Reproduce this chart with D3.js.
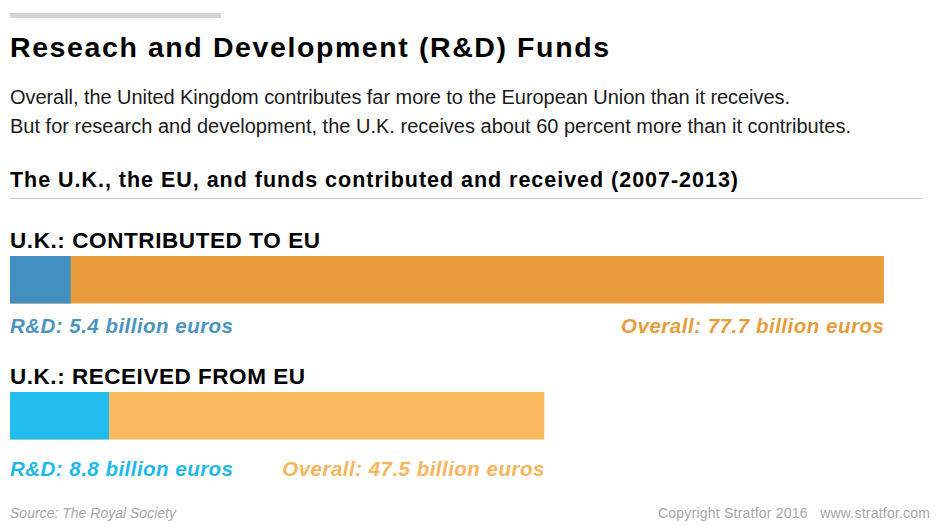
<!DOCTYPE html>
<html>
<head>
<meta charset="utf-8">
<script src="https://cdn.jsdelivr.net/npm/d3@7/dist/d3.min.js"></script>
<style>
  html, body { margin: 0; padding: 0; background: #fff; }
  svg { display: block; font-family: "Liberation Sans", Arial, Helvetica, sans-serif; }
</style>
</head>
<body>
<svg id="chart" width="940" height="526"></svg>
<script>
const title = "Reseach and Development (R&D) Funds";
const subtitleLines = [
  "Overall, the United Kingdom contributes far more to the European Union than it receives.",
  "But for research and development, the U.K. receives about 60 percent more than it contributes."
];
const sectionTitle = "The U.K., the EU, and funds contributed and received (2007-2013)";
const groups = ["U.K.: CONTRIBUTED TO EU", "U.K.: RECEIVED FROM EU"];
const rdValues = [5.4, 8.8];
const overallValues = [77.7, 47.5];
const rdColors = ["#4190bf", "#22bdee"];
const overallColors = ["#ea9c3c", "#fbb960"];
const rdLabelColors = ["#4a94c1", "#1db9ec"];
const overallLabelColors = ["#ea9c3c", "#fbb459"];
const source = "Source: The Royal Society";
const copyright = "Copyright Stratfor 2016   www.stratfor.com";

const svg = d3.select("#chart");

function fit(sel, w) {
  sel.attr("textLength", w).attr("lengthAdjust", "spacing");
  return sel;
}

svg.append("rect").attr("x", 10).attr("y", 13).attr("width", 211).attr("height", 5).attr("fill", "#d5d5d5");

fit(svg.append("text").attr("x", 10).attr("y", 56.5)
  .attr("font-size", 28.5).attr("font-weight", "bold").attr("fill", "#000").text(title), 599);

const subW = [780, 841];
subtitleLines.forEach((t, i) => {
  fit(svg.append("text").attr("x", 10).attr("y", 104 + i * 29)
    .attr("font-size", 20).attr("fill", "#1a1a1a").text(t), subW[i]);
});

fit(svg.append("text").attr("x", 10).attr("y", 186.5)
  .attr("font-size", 21.5).attr("font-weight", "bold").attr("fill", "#000").text(sectionTitle), 728);

svg.append("line").attr("x1", 10).attr("x2", 922).attr("y1", 198.5).attr("y2", 198.5)
  .attr("stroke", "#c8c8c8").attr("stroke-width", 1);

const x = d3.scaleLinear().domain([0, d3.max(overallValues)]).range([10, 884]);
const y = d3.scalePoint().domain(groups).range([256, 392]);
const barH = 47.5;
const headW = [310, 295];
const rdW = [223, 223];
const ovW = [263, 262];

const g = svg.selectAll("g.grp").data(groups).join("g").attr("class", "grp");

g.append("text").attr("x", 10).attr("y", d => y(d) - 8)
  .attr("font-size", 22.5).attr("font-weight", "bold").attr("fill", "#000").text(d => d)
  .attr("textLength", (d, i) => headW[i]).attr("lengthAdjust", "spacing");

g.append("rect").attr("x", x(0)).attr("y", d => y(d))
  .attr("width", (d, i) => x(overallValues[i]) - x(0)).attr("height", barH)
  .attr("fill", (d, i) => overallColors[i]);

g.append("rect").attr("x", x(0)).attr("y", d => y(d))
  .attr("width", (d, i) => x(rdValues[i]) - x(0)).attr("height", barH)
  .attr("fill", (d, i) => rdColors[i]);

g.append("text").attr("x", x(0)).attr("y", (d, i) => y(d) + barH + 29 + i * 7)
  .attr("font-size", 20.5).attr("font-weight", "bold").attr("font-style", "italic")
  .attr("fill", (d, i) => rdLabelColors[i])
  .attr("textLength", (d, i) => rdW[i]).attr("lengthAdjust", "spacing")
  .text((d, i) => `R&D: ${rdValues[i]} billion euros`);

g.append("text").attr("x", (d, i) => x(overallValues[i])).attr("y", (d, i) => y(d) + barH + 29 + i * 7)
  .attr("text-anchor", "end")
  .attr("font-size", 20.5).attr("font-weight", "bold").attr("font-style", "italic")
  .attr("fill", (d, i) => overallLabelColors[i])
  .attr("textLength", (d, i) => ovW[i]).attr("lengthAdjust", "spacing")
  .text((d, i) => `Overall: ${overallValues[i]} billion euros`);

fit(svg.append("text").attr("x", 10).attr("y", 518)
  .attr("font-size", 14).attr("font-style", "italic").attr("fill", "#a6a6a6").text(source), 166);

fit(svg.append("text").attr("x", 930).attr("y", 518).attr("text-anchor", "end")
  .attr("font-size", 14).attr("fill", "#a6a6a6")
  .style("white-space", "pre").text(copyright), 272);
</script>
</body>
</html>
